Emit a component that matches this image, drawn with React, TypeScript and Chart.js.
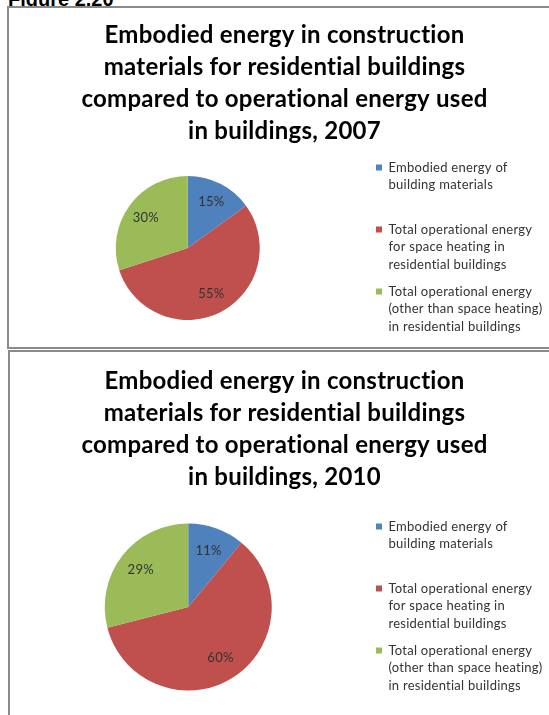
import React, { useEffect, useRef } from 'react';
import { Chart, registerables } from 'chart.js';
Chart.register(...registerables);

const categories: string[][] = [
  ['Embodied energy of', 'building materials', ''],
  ['Total operational energy', 'for space heating in', 'residential buildings'],
  ['Total operational energy', '(other than space heating)', 'in residential buildings'],
];
const values2007 = [15, 55, 30];
const values2010 = [11, 60, 29];
const titleLines2007 = [
  'Embodied energy in construction',
  'materials for residential buildings',
  'compared to operational energy used',
  'in buildings, 2007',
];
const titleLines2010 = [
  'Embodied energy in construction',
  'materials for residential buildings',
  'compared to operational energy used',
  'in buildings, 2010',
];
const colors = ['#4F81BD', '#C0504D', '#9BBB59'];

type PieProps = {
  values: number[];
  title: string[];
  width: number;
  height: number;
  titlePadTop: number;
  titlePadBottom: number;
  radius: number;
  legendWidth: number;
};

function PieChart(p: PieProps) {
  const ref = useRef<HTMLCanvasElement | null>(null);
  useEffect(() => {
    if (!ref.current) return;
    const legendWidthPlugin = {
      id: 'legendWidth',
      beforeLayout(chart: any) {
        const lg = chart.legend;
        if (lg && !lg._fixedFit) {
          const orig = lg.fit;
          lg.fit = function () {
            orig.call(lg);
            lg.width = p.legendWidth;
          };
          lg._fixedFit = true;
        }
      },
      beforeDraw(chart: any) {
        try {
          (chart.ctx as any).letterSpacing = '0.25px';
        } catch (e) {}
      },
    };
    const labelPlugin = {
      id: 'sliceLabels',
      afterDatasetsDraw(chart: any) {
        const ctx = chart.ctx;
        const meta = chart.getDatasetMeta(0);
        const data = chart.data.datasets[0].data as number[];
        ctx.save();
        ctx.font = '13px Lato';
        ctx.fillStyle = '#333333';
        ctx.textAlign = 'center';
        ctx.textBaseline = 'middle';
        meta.data.forEach((arc: any, i: number) => {
          const { x, y, startAngle, endAngle, outerRadius } = arc.getProps(
            ['x', 'y', 'startAngle', 'endAngle', 'outerRadius'],
            true
          );
          const mid = (startAngle + endAngle) / 2;
          const r = outerRadius * 0.72;
          ctx.fillText(data[i] + '%', x + Math.cos(mid) * r, y + Math.sin(mid) * r);
        });
        ctx.restore();
      },
    };
    const chart = new Chart(ref.current, {
      type: 'pie',
      data: {
        labels: categories as any,
        datasets: [
          {
            data: p.values,
            backgroundColor: colors,
            borderWidth: 0,
            radius: p.radius,
          } as any,
        ],
      },
      options: {
        responsive: false,
        animation: false,
        layout: { padding: 0 },
        plugins: {
          title: {
            display: true,
            text: p.title,
            color: '#000000',
            font: { family: 'Lato', size: 24, weight: 'bold', lineHeight: 32 / 24 },
            padding: { top: p.titlePadTop, bottom: p.titlePadBottom },
          },
          legend: {
            display: true,
            position: 'right',
            align: 'end',
            fullSize: true,
            labels: {
              boxWidth: 6,
              boxHeight: 6,
              padding: 9.5,
              color: '#333333',
              font: { family: 'Lato', size: 13, lineHeight: 17.5 / 13 },
            },
          },
          tooltip: { enabled: false },
        },
      },
      plugins: [legendWidthPlugin, labelPlugin],
    } as any);
    return () => chart.destroy();
  }, []);
  return <canvas ref={ref} width={p.width} height={p.height} style={{ display: 'block' }} />;
}

export default function App() {
  return (
    <div
      style={{
        position: 'fixed',
        left: 0,
        top: 0,
        width: 549,
        height: 715,
        overflow: 'hidden',
        background: '#ffffff',
      }}
    >
      <div
        style={{
          position: 'absolute',
          left: 8,
          top: -12,
          fontFamily: '"Liberation Sans", Arial, sans-serif',
          fontWeight: 'bold',
          fontSize: 20,
          lineHeight: 'normal',
          color: '#000',
          whiteSpace: 'nowrap',
        }}
      >
        Figure 2.20
      </div>
      <div
        style={{
          position: 'absolute',
          left: 7,
          top: 6,
          width: 600,
          height: 339,
          border: '2px solid #8a8a8a',
          background: '#fff',
        }}
      >
        <PieChart
          values={values2007}
          title={titleLines2007}
          width={551}
          height={339}
          titlePadTop={11}
          titlePadBottom={2}
          radius={72}
          legendWidth={193.5}
        />
      </div>
      <div
        style={{
          position: 'absolute',
          left: 8,
          top: 350,
          width: 600,
          height: 400,
          border: '2px solid #8a8a8a',
          background: '#fff',
        }}
      >
        <PieChart
          values={values2010}
          title={titleLines2010}
          width={549}
          height={354}
          titlePadTop={13}
          titlePadBottom={15}
          radius={83.5}
          legendWidth={192.5}
        />
      </div>
    </div>
  );
}
